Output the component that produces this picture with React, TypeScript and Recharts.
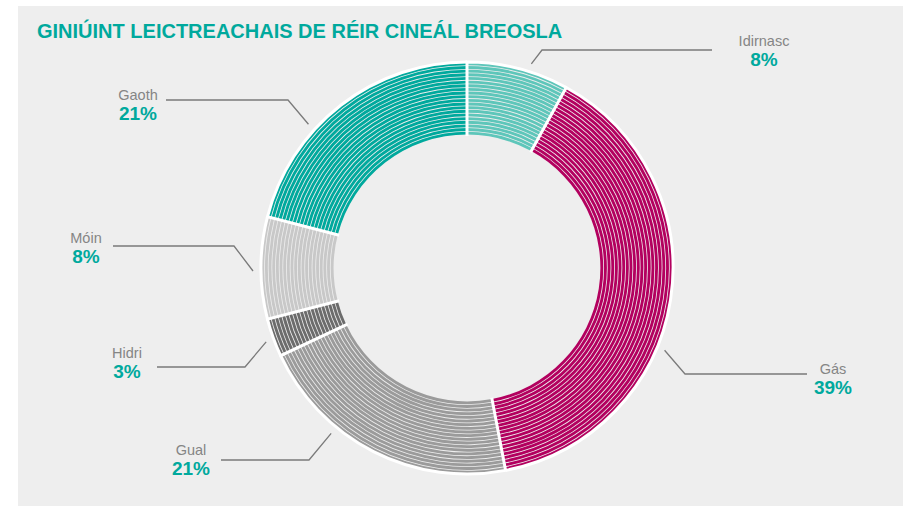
import { PieChart, Pie, Cell } from 'recharts'

const CATEGORIES = ['Idirnasc', 'Gás', 'Gual', 'Hidri', 'Móin', 'Gaoth']
const SHARES = [8, 39, 21, 3, 8, 21]
const COLORS = ['#5ec6ba', '#b3005f', '#9b9b9b', '#6c6c6c', '#c8c8c8', '#00a99d']

// hand-placed callouts, relative to the pie centre
const LABEL_LAYOUT = [
  { angle: 72.5, elbow: [75, -218], endX: 245, textX: 297, textY: -227 },
  { angle: -22.6, elbow: [218, 106], endX: 340, textX: 366, textY: 101 },
  { angle: -129.4, elbow: [-158, 192], endX: -246, textX: -276, textY: 182 },
  { angle: -159.8, elbow: [-222, 99], endX: -310, textX: -340, textY: 85 },
  { angle: 180.8, elbow: [-233, -22], endX: -354, textX: -381, textY: -30 },
  { angle: 137.8, elbow: [-179, -168], endX: -301, textX: -329, textY: -173 },
]

const data = CATEGORIES.map((name, i) => ({ name, value: SHARES[i] }))

const CX = 467
const CY = 268
const INNER = 133
const OUTER = 206
const RINGS = 20
const STEP = (OUTER - INNER) / RINGS

const TEAL = '#00a99d'
const PANEL = '#eeeeee'

const polar = (cx: number, cy: number, r: number, deg: number) => {
  const rad = (deg * Math.PI) / 180
  return [cx + r * Math.cos(rad), cy - r * Math.sin(rad)]
}

function renderLabel(props: any) {
  const { cx, cy, index, startAngle, endAngle } = props
  const l = LABEL_LAYOUT[index]
  const [sx, sy] = polar(cx, cy, OUTER + 8, l.angle)
  const ex = cx + l.elbow[0]
  const ey = cy + l.elbow[1]
  const hx = cx + l.endX
  // white slice divider + outer rim for this slice
  const [ix, iy] = polar(cx, cy, INNER - 1, startAngle)
  const [ox, oy] = polar(cx, cy, OUTER, startAngle)
  const [ax, ay] = polar(cx, cy, OUTER, endAngle)
  const large = Math.abs(endAngle - startAngle) > 180 ? 1 : 0
  return (
    <g key={`lbl-${index}`}>
      <path
        d={`M${ix},${iy} L${ox},${oy} A${OUTER},${OUTER} 0 ${large} 1 ${ax},${ay}`}
        fill="none"
        stroke="#ffffff"
        strokeWidth={3}
      />
      <polyline
        points={`${sx},${sy} ${ex},${ey} ${hx},${ey}`}
        fill="none"
        stroke="#7a7a7a"
        strokeWidth={1.3}
      />
      <text
        x={cx + l.textX}
        y={cy + l.textY}
        textAnchor="middle"
        dominantBaseline="central"
        fill="#858585"
        fontSize={14.5}
        fontFamily="'Liberation Sans', Arial, sans-serif"
      >
        {CATEGORIES[index]}
      </text>
      <text
        x={cx + l.textX}
        y={cy + l.textY + 18.5}
        textAnchor="middle"
        dominantBaseline="central"
        fill={TEAL}
        fontSize={19}
        fontWeight="bold"
        fontFamily="'Liberation Sans', Arial, sans-serif"
      >
        {`${SHARES[index]}%`}
      </text>
    </g>
  )
}

export default function App() {
  const rings = Array.from({ length: RINGS }, (_, i) => i)
  return (
    <div style={{ position: 'absolute', left: 0, top: 0, width: 903, height: 509, background: '#ffffff' }}>
      <div style={{ position: 'absolute', left: 18, top: 6, width: 885, height: 500, background: PANEL }} />
      <div
        style={{
          position: 'absolute',
          left: 37,
          top: 21,
          fontFamily: "'Liberation Sans Narrow', 'Liberation Sans', Arial, sans-serif",
          fontWeight: 'bold',
          fontSize: 20,
          lineHeight: '20px',
          color: TEAL,
          whiteSpace: 'nowrap',
        }}
      >
        GINIÚINT LEICTREACHAIS DE RÉIR CINEÁL BREOSLA
      </div>
      <div style={{ position: 'absolute', left: 0, top: 0 }}>
        <PieChart width={903} height={509} margin={{ top: 0, right: 0, bottom: 0, left: 0 }}>
          {rings.map((i) => (
            <Pie
              key={`ring-${i}`}
              data={data}
              dataKey="value"
              cx={CX}
              cy={CY}
              startAngle={90}
              endAngle={-270}
              innerRadius={INNER + i * STEP + 0.4}
              outerRadius={INNER + (i + 1) * STEP - 0.4}
              stroke="none"
              isAnimationActive={false}
            >
              {data.map((d, j) => (
                <Cell key={d.name} fill={COLORS[j]} />
              ))}
            </Pie>
          ))}
          <Pie
            data={data}
            dataKey="value"
            cx={CX}
            cy={CY}
            startAngle={90}
            endAngle={-270}
            innerRadius={INNER}
            outerRadius={OUTER}
            fill="none"
            stroke="none"
            label={renderLabel}
            labelLine={false}
            isAnimationActive={false}
          />
        </PieChart>
      </div>
    </div>
  )
}
